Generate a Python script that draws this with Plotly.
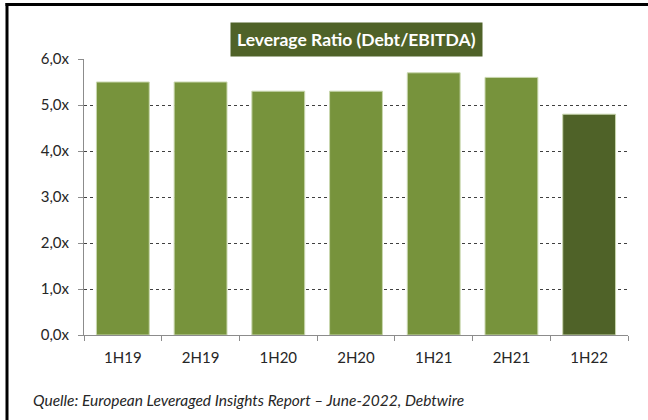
import plotly.graph_objects as go

categories = ["1H19", "2H19", "1H20", "2H20", "1H21", "2H21", "1H22"]
values = [5.5, 5.5, 5.3, 5.3, 5.7, 5.6, 4.8]
bar_colors = ["#77933C"] * 6 + ["#4F6228"]
y_tickvals = [0, 1, 2, 3, 4, 5, 6]
y_ticktext = ["0,0x", "1,0x", "2,0x", "3,0x", "4,0x", "5,0x", "6,0x"]
title_text = "Leverage Ratio (Debt/EBITDA)"
source_text = "Quelle: European Leveraged Insights Report – June-2022, Debtwire"

fig = go.Figure(go.Bar(
    x=categories, y=values,
    marker=dict(color=bar_colors, line=dict(color="#C9D7AE", width=1)),
    hoverinfo="x+y",
))

W, H = 648, 420
L, R, T, B = 84, 20, 59, 85
pw, ph = W - L - R, H - T - B

def px_x(p):
    return (p - L) / pw

def px_y(p):
    return 1 - (p - T) / ph

FONT = "Lato, Open Sans, sans-serif"

fig.update_layout(
    width=W, height=H,
    margin=dict(l=L, r=R, t=T, b=B),
    paper_bgcolor="white", plot_bgcolor="white",
    bargap=0.32,
    showlegend=False,
    font=dict(family=FONT, size=15, color="#262626"),
    xaxis=dict(
        showline=True, linecolor="#8C8C8C", linewidth=1,
        ticks="outside", tickson="boundaries", ticklen=5, tickcolor="#8C8C8C",
        showgrid=False, ticklabelstandoff=9,
        tickfont=dict(size=15, color="#262626"),
    ),
    yaxis=dict(
        range=[0, 6], tickvals=y_tickvals, ticktext=y_ticktext,
        showline=True, linecolor="#8C8C8C", linewidth=1,
        ticks="outside", ticklen=5, tickcolor="#8C8C8C",
        showgrid=True, gridcolor="#404040", griddash="dot", gridwidth=1,
        zeroline=False, ticklabelstandoff=6,
        tickfont=dict(size=15, color="#262626"),
    ),
    annotations=[
        dict(text="<b>" + title_text + "</b>", xref="paper", yref="paper",
             x=px_x(356), y=px_y(40), xanchor="center", yanchor="middle",
             showarrow=False, bgcolor="#4F6228", borderpad=6,
             font=dict(family=FONT, size=17.5, color="white")),
        dict(text="<i>" + source_text + "</i>", xref="paper", yref="paper",
             x=px_x(31), y=px_y(400), xanchor="left", yanchor="middle",
             showarrow=False,
             font=dict(family=FONT, size=15.5, color="#262626")),
    ],
    shapes=[
        dict(type="line", xref="paper", yref="paper",
             x0=px_x(7), x1=px_x(7), y0=px_y(3), y1=px_y(420),
             line=dict(color="black", width=3)),
        dict(type="rect", xref="paper", yref="paper",
             x0=px_x(5.5), x1=px_x(648), y0=px_y(6), y1=px_y(3),
             fillcolor="black", line=dict(width=0)),
    ],
)

fig.write_html("out.html", config={"displayModeBar": False},
               post_script="document.body.style.margin='0';document.body.style.overflow='hidden';")
